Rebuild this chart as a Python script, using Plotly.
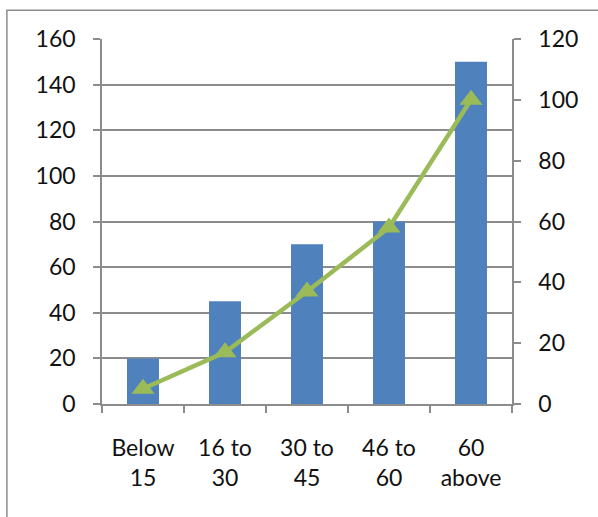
import plotly.graph_objects as go

# Age groups and the two series plotted against them
categories = ["Below<br>15", "16 to<br>30", "30 to<br>45", "46 to<br>60", "60<br>above"]
bar_values = [20, 45, 70, 80, 150]
line_values = [5, 17, 37, 58, 100]

left_ticks = [0, 20, 40, 60, 80, 100, 120, 140, 160]
right_ticks = [0, 20, 40, 60, 80, 100, 120]

FONT = "Lato, 'Open Sans', sans-serif"
GRID = "#8c8c8c"

fig = go.Figure()
fig.add_trace(go.Bar(
    x=categories, y=bar_values, marker_color="#4F81BD",
    marker_line_width=0, yaxis="y", showlegend=False,
))
fig.add_trace(go.Scatter(
    x=categories, y=line_values, mode="lines+markers", yaxis="y2",
    line=dict(color="#9BBB59", width=4.5),
    marker=dict(symbol="triangle-up", size=20, color="#9BBB59"),
    showlegend=False,
))

fig.update_layout(
    width=598, height=517,
    margin=dict(l=102, r=86, t=39, b=113),
    paper_bgcolor="white", plot_bgcolor="white",
    bargap=0.61,
    font=dict(family=FONT, size=23, color="#111111"),
    xaxis=dict(
        type="category", tickson="boundaries", ticks="outside", ticklen=7,
        tickcolor=GRID, tickwidth=1.5, showgrid=False, showline=True,
        linecolor=GRID, linewidth=1.5, ticklabelstandoff=23,
        automargin=False,
    ),
    yaxis=dict(
        range=[0, 160], tickvals=left_ticks, ticks="outside", ticklen=7,
        tickcolor=GRID, tickwidth=1.5, showgrid=True, gridcolor=GRID,
        gridwidth=1.5, showline=True, linecolor=GRID, linewidth=1.5,
        zeroline=False, automargin=False, ticklabelstandoff=13,
    ),
    yaxis2=dict(
        range=[0, 120], tickvals=right_ticks, overlaying="y", side="right",
        ticks="outside", ticklen=7, tickcolor=GRID, tickwidth=1.5,
        showgrid=False, showline=True, linecolor=GRID, linewidth=1.5,
        zeroline=False, automargin=False, ticklabelstandoff=13,
    ),
    shapes=[dict(
        type="rect", xref="paper", yref="paper",
        x0=-0.232, x1=1.4, y0=-0.6, y1=1.079,
        line=dict(color="#8c8c8c", width=1.5), layer="below",
    )],
)

fig.write_html("out.html")
